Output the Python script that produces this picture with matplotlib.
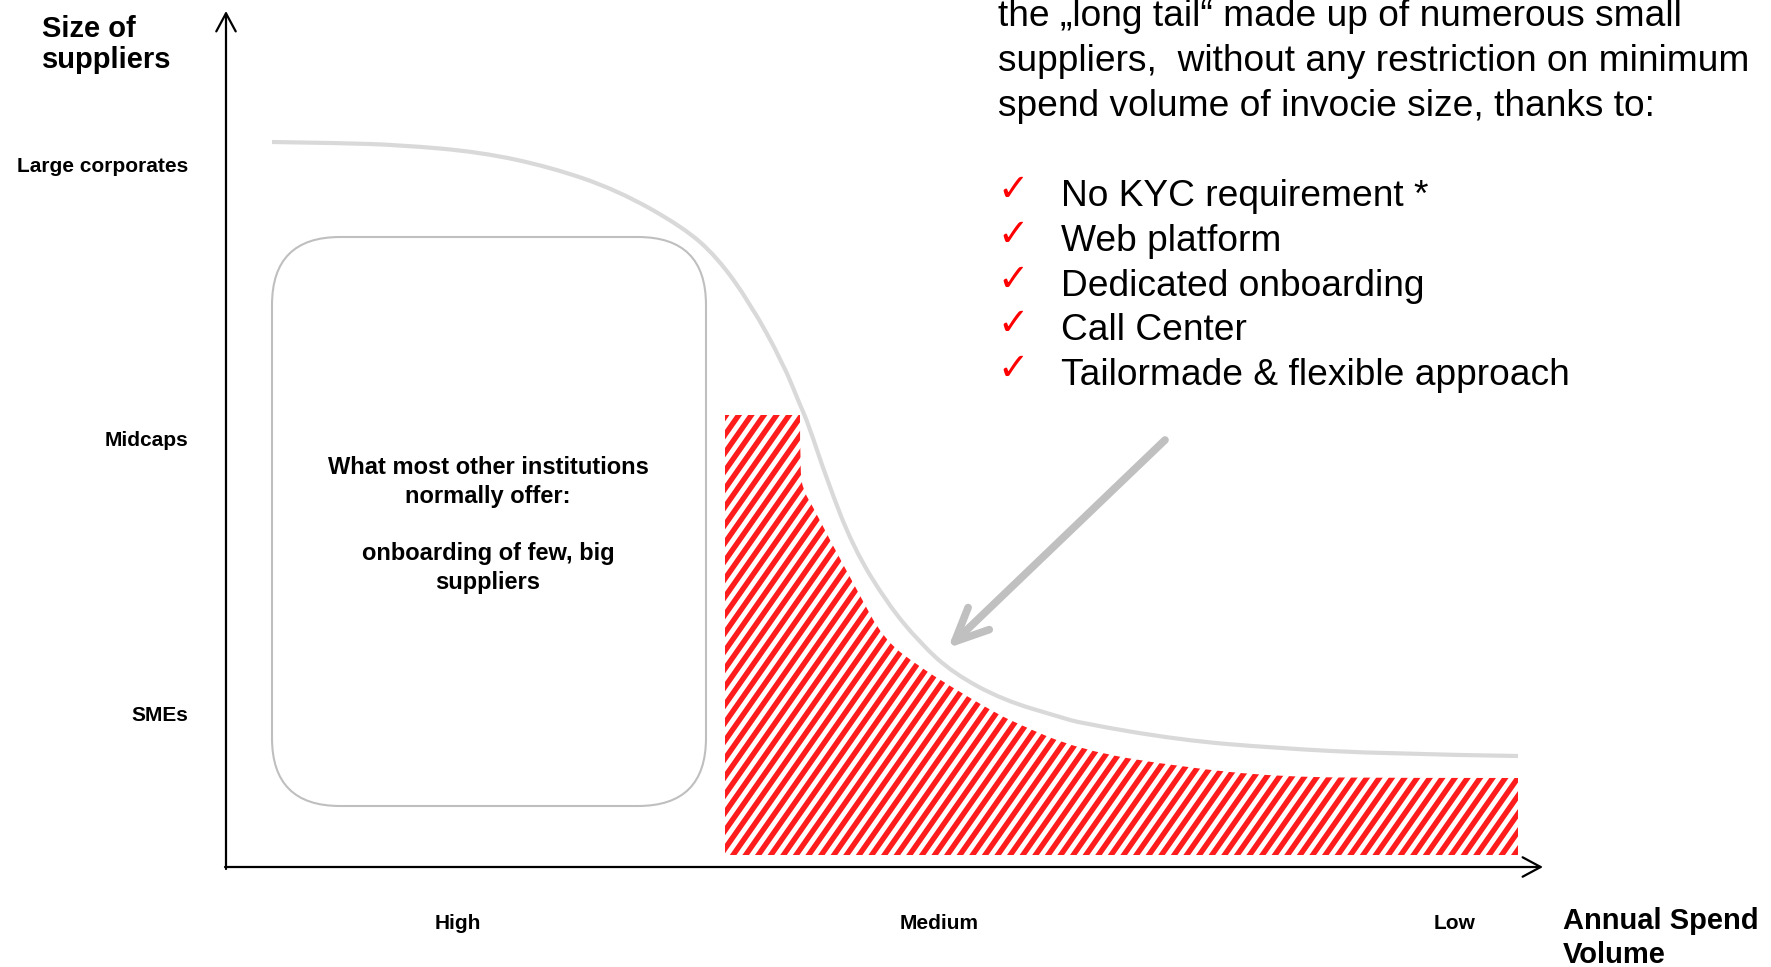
import numpy as np
import matplotlib.pyplot as plt
from matplotlib.patches import FancyBboxPatch, PathPatch
from matplotlib.path import Path
from matplotlib.collections import LineCollection

plt.rcParams['font.family'] = ['Liberation Sans', 'DejaVu Sans']

W, H = 1771, 967

# supplier-size curve, in slide pixels (x to the right, y downwards)
curve_x = [272, 340, 400, 480, 550, 617, 683, 717, 750, 783, 800, 808, 827,
           853, 887, 920, 953, 1003, 1060, 1080, 1180, 1274, 1389, 1518]
curve_y = [142, 143, 145, 152, 167, 190, 227, 257, 303, 363, 405, 423, 480,
           547, 603, 643, 673, 700, 717, 723, 740, 748, 754, 756]

# upper edge of the long tail served (hatched area), left to right
tail_x = [725, 800, 800, 803, 812, 831, 857, 884, 920, 950, 987, 1013, 1080,
          1180, 1280, 1400, 1518]
tail_y = [415, 415, 470, 490, 505, 542, 590, 640, 667, 686, 708, 722, 750,
          767, 777, 778, 778]
tail_floor = 855

size_labels = ["Large corporates", "Midcaps", "SMEs"]
size_pos = [172, 446, 721]
spend_labels = ["High", "Medium", "Low"]
spend_pos = [458, 939, 1455]

box_lines = ["What most other institutions", "normally offer:", "",
             "onboarding of few, big", "suppliers"]
header_lines = ["the \u201elong tail\u201c made up of numerous small",
                "suppliers,  without any restriction on minimum",
                "spend volume of invocie size, thanks to:"]
bullets = ["No KYC requirement *", "Web platform", "Dedicated onboarding",
           "Call Center", "Tailormade & flexible approach"]


def smooth_verts(xs, ys):
    # quadratic pieces through the midpoints, read points used as controls
    pts = np.column_stack([xs, ys]).astype(float)
    verts = [pts[0]]
    codes = [Path.MOVETO]
    for i in range(1, len(pts) - 1):
        mid = (pts[i] + pts[i + 1]) / 2 if i < len(pts) - 2 else pts[i + 1]
        verts += [pts[i], mid]
        codes += [Path.CURVE3, Path.CURVE3]
    return verts, codes


fig = plt.figure(figsize=(W / 100, H / 100), dpi=100)
ax = fig.add_axes([0, 0, 1, 1])
ax.set_xlim(0, W)
ax.set_ylim(H, 0)
ax.axis('off')

# clip outline: straight top-left part, smoothed slope, flat floor
v, c = smooth_verts(tail_x[1:], tail_y[1:])
verts = [(tail_x[0], tail_floor), (tail_x[0], tail_y[0])] + v[:1] + v[1:]
codes = [Path.MOVETO, Path.LINETO, Path.LINETO] + c[1:]
verts += [(tail_x[-1], tail_floor), (tail_x[0], tail_floor)]
codes += [Path.LINETO, Path.CLOSEPOLY]
tail = PathPatch(Path(verts, codes), facecolor='none', edgecolor='none')
ax.add_patch(tail)

# red stripes clipped to the tail outline
slope = np.tan(np.deg2rad(55))
segs = []
for x0 in np.arange(min(tail_x) - 400, max(tail_x) + 20, 12.6):
    segs.append([(x0, 880), (x0 + 500 / slope, 380)])
lc = LineCollection(segs, colors='#ff1c1c', linewidths=3.9, capstyle='butt')
ax.add_collection(lc)
lc.set_clip_path(tail)

v, c = smooth_verts(curve_x, curve_y)
ax.add_patch(PathPatch(Path(v, c), facecolor='none', edgecolor='#d9d9d9',
                       lw=3, capstyle='butt'))

box = FancyBboxPatch((272, 237), 434, 569,
                     boxstyle='round,pad=0,rounding_size=68',
                     facecolor='white', edgecolor='#bfbfbf', lw=1.5)
ax.add_patch(box)

# axes with open arrow heads
ax_arrow = dict(arrowstyle='->,head_length=1.3,head_width=0.7', lw=1.6,
                color='black', shrinkA=0, shrinkB=0)
ax.annotate('', xy=(226, 11), xytext=(226, 869), arrowprops=ax_arrow)
ax.annotate('', xy=(1543, 867), xytext=(225, 867), arrowprops=ax_arrow)

ax.annotate('', xy=(948, 648), xytext=(1165, 440),
            arrowprops=dict(arrowstyle='->,head_length=2.4,head_width=1.1',
                            lw=5.5, color='#c0c0c0', shrinkA=0, shrinkB=0,
                            capstyle='round', joinstyle='round'))

ax.text(42, 37, "Size of", fontsize=21, fontweight='bold', va='baseline')
ax.text(42, 68, "suppliers", fontsize=21, fontweight='bold', va='baseline')
ax.text(1563, 929, "Annual Spend", fontsize=21, fontweight='bold', va='baseline')
ax.text(1563, 963, "Volume", fontsize=21, fontweight='bold', va='baseline')

for lab, y in zip(size_labels, size_pos):
    ax.text(188, y, lab, ha='right', va='baseline', fontsize=15, fontweight='bold')
for lab, x in zip(spend_labels, spend_pos):
    ax.text(x, 929, lab, ha='center', va='baseline', fontsize=15, fontweight='bold')

for i, line in enumerate(box_lines):
    ax.text(488, 474 + 28.7 * i, line, ha='center', va='baseline',
            fontsize=17, fontweight='bold')

for i, line in enumerate(header_lines):
    ax.text(998, 26.5 + 44.85 * i, line, va='baseline', fontsize=26.7)
for i, line in enumerate(bullets):
    yb = 26.5 + 44.85 * (i + 4)
    ax.text(1013, yb - 15, '\u2713', ha='center', va='center', color='red',
            fontsize=27, fontweight='bold', family='DejaVu Sans')
    ax.text(1061, yb, line, va='baseline', fontsize=26.7)

fig.savefig('out.png', dpi=100)
